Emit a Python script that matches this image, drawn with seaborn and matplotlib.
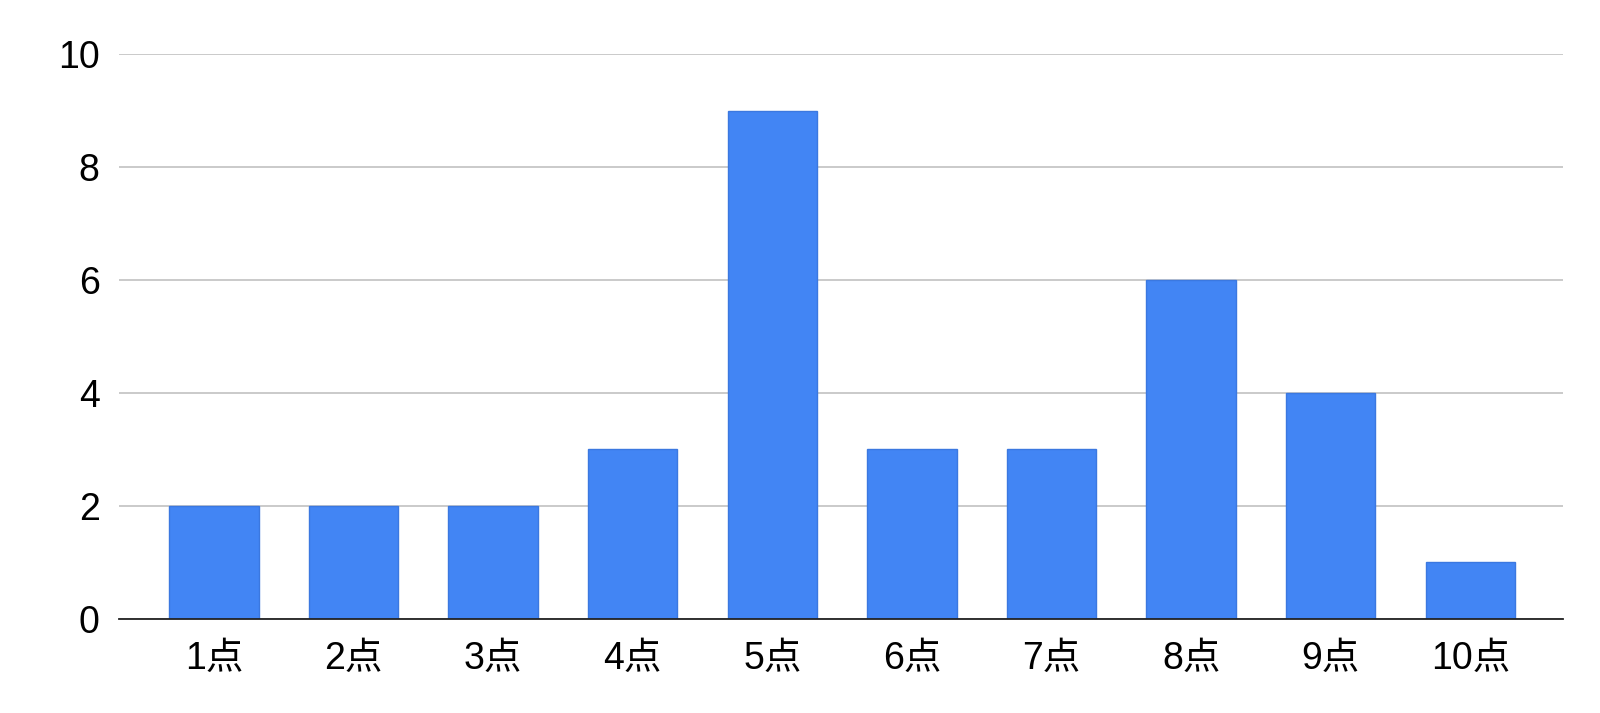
import numpy as np
import pandas as pd
import matplotlib
matplotlib.use("Agg")
import matplotlib.pyplot as plt
import seaborn as sns

categories = ["1点", "2点", "3点", "4点", "5点", "6点", "7点", "8点", "9点", "10点"]
counts = [2, 2, 2, 3, 9, 3, 3, 6, 4, 1]
y_ticks = [0, 2, 4, 6, 8, 10]

sns.set_theme(style="white")
plt.rcParams["font.family"] = ["Liberation Sans", "Noto Sans CJK JP", "DejaVu Sans"]

df = pd.DataFrame({"score": categories, "count": counts})

fig = plt.figure(figsize=(16.0, 7.13), dpi=100)
ax = fig.add_axes([0.0744, 0.132, 0.9026, 0.792])

sns.barplot(
    data=df,
    x="score",
    y="count",
    color="#4285F4",
    saturation=1,
    width=0.64,
    edgecolor="#3b78e0",
    linewidth=1,
    ax=ax,
)

ax.set_ylim(0, 10)
ax.set_xlim(-0.68, 9.665)
ax.set_yticks(y_ticks)
ax.yaxis.grid(True, color="#c6c6c6", linewidth=1.3)
ax.set_axisbelow(True)
for side in ["top", "right", "left"]:
    ax.spines[side].set_visible(False)
ax.spines["bottom"].set_color("#222222")
ax.spines["bottom"].set_linewidth(1.3)
ax.tick_params(axis="both", length=0, labelsize=27, colors="#000000")
ax.tick_params(axis="y", pad=14)
ax.tick_params(axis="x", pad=16)
ax.set_xlabel("")
ax.set_ylabel("")

fig.savefig("out.png", dpi=100)
